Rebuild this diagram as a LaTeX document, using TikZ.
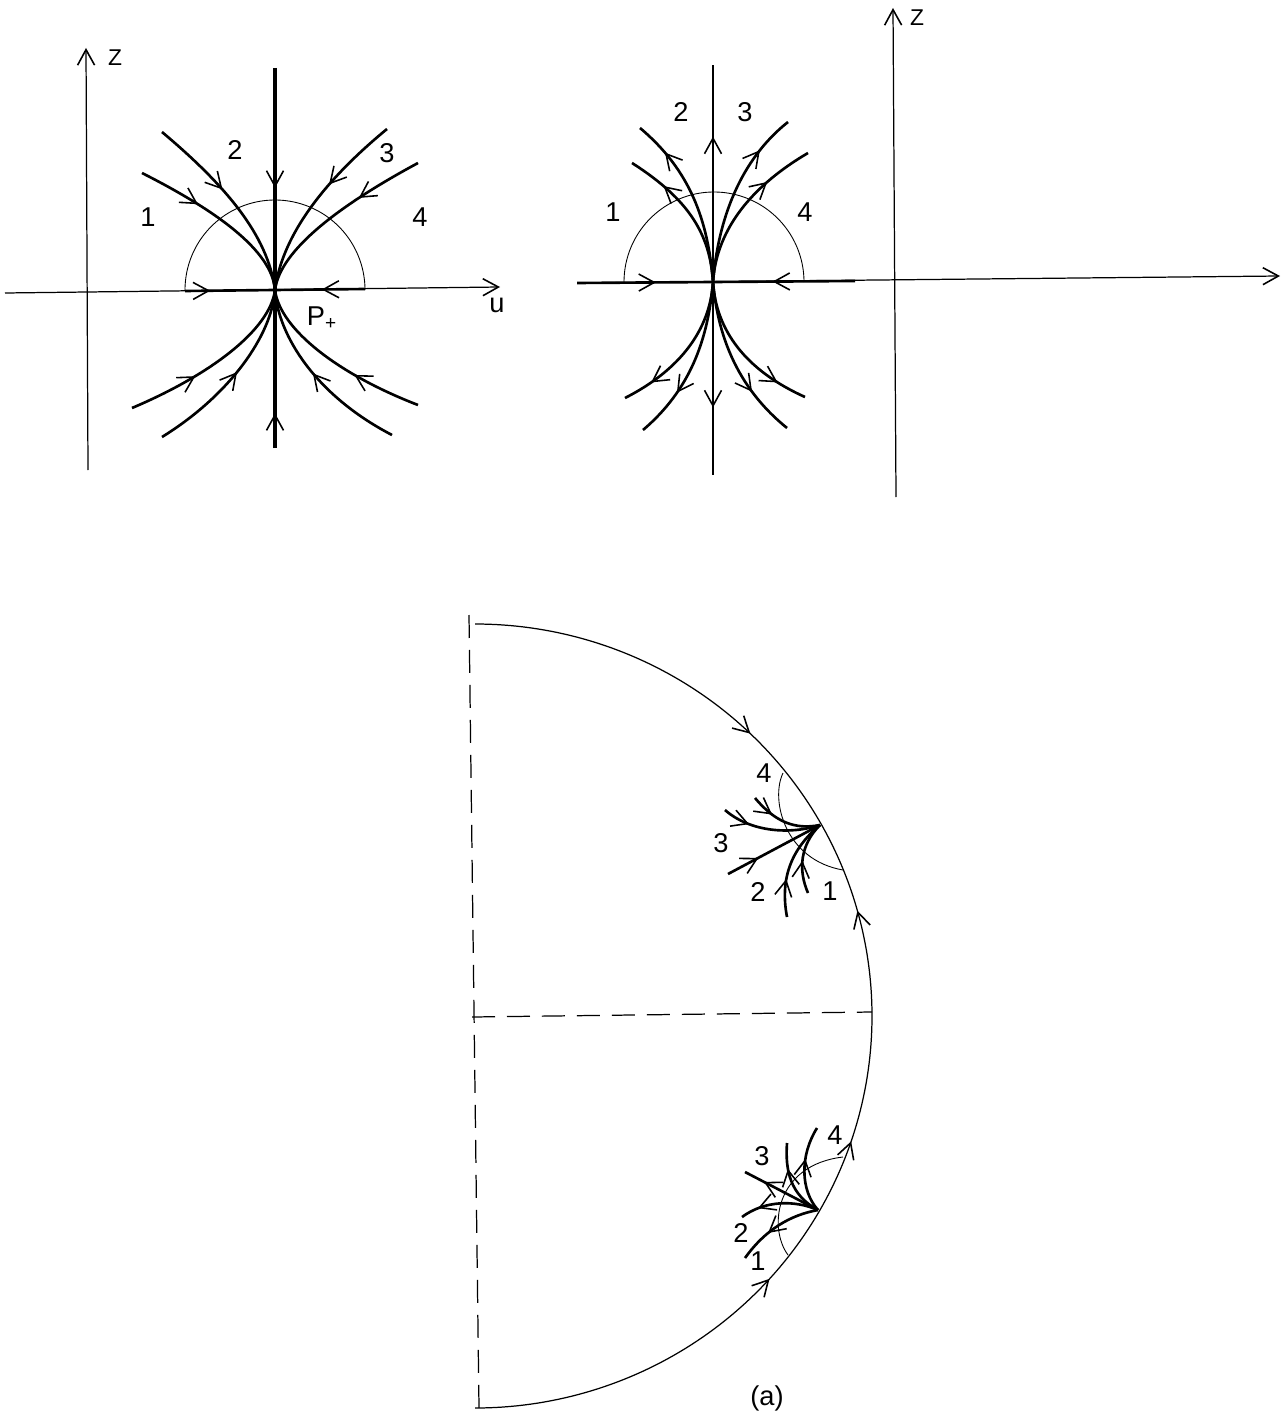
\documentclass[tikz,border=0pt]{standalone}
\usepackage{fontspec}
\setmainfont{Liberation Sans}
\usetikzlibrary{arrows.meta,decorations.markings}
\begin{document}
\begin{tikzpicture}[x=0.02cm,y=-0.02cm,
  >={Straight Barb[length=3.1mm,width=3.4mm,line width=0.9pt]},
  axis/.style={line width=0.7pt},
  flow/.style={line width=1.5pt},
  heavy/.style={line width=2pt},
  guide/.style={line width=0.5pt},
  dashline/.style={line width=0.7pt,dash pattern=on 0.46cm off 0.24cm},
  lbl/.style={font=\fontsize{15.5}{18}\selectfont, inner sep=0pt},
  axlbl/.style={font=\fontsize{13}{16}\selectfont, inner sep=0pt},
  midarrow/.style={postaction={decorate,decoration={markings,mark=at position #1 with {\arrow{>}}}}},
  midarrowrev/.style={postaction={decorate,decoration={markings,mark=at position #1 with {\arrowreversed{>}}}}}]
\useasboundingbox (0,0) rectangle (1286,1415);

% ================= Panel A =================
\coordinate (P) at (275,290);
\coordinate (zAb) at (88,470); \coordinate (zAt) at (86,48);
\coordinate (uAl) at (5,293); \coordinate (uAr) at (500,287);
\coordinate (hAl) at (185,291); \coordinate (hAr) at (365,289);
\coordinate (vAt) at (275,68); \coordinate (vAb) at (275,448);
\draw[axis,->] (zAb) -- (zAt);
\draw[axis,->] (uAl) -- (uAr);
\node[axlbl] (zA) at (115,58) {Z};
\node[lbl] (uA) at (497,305) {u};
\node[lbl] (pA) at (322,318) {P\textsubscript{+}};
\draw[guide] plot[domain=0:180,samples=90] ({275+90*cos(\x)},{290-90*sin(\x)});
\draw[flow,midarrow=0.28] (hAl) -- (P);
\draw[flow,midarrow=0.48] (hAr) -- (P);
\draw[heavy,midarrow=0.54] (vAt) -- (P);
\draw[heavy,midarrow=0.22] (vAb) -- (P);
\coordinate (a1) at (142,173); \coordinate (a2) at (162,132);
\coordinate (a3) at (387,129); \coordinate (a4) at (418,163);
\coordinate (a5) at (132,408); \coordinate (a6) at (162,437);
\coordinate (a7) at (418,405); \coordinate (a8) at (392,435);
\draw[flow,midarrow=0.35] (a1) .. controls (215,210) and (272,250) .. (P);
\draw[flow,midarrow=0.42] (a2) .. controls (225,185) and (268,235) .. (P);
\draw[flow,midarrow=0.4] (a3) .. controls (325,180) and (282,235) .. (P);
\draw[flow,midarrow=0.35] (a4) .. controls (340,205) and (280,250) .. (P);
\draw[flow,midarrow=0.37] (a5) .. controls (210,375) and (270,330) .. (P);
\draw[flow,midarrow=0.52] (a6) .. controls (230,395) and (272,335) .. (P);
\draw[flow,midarrow=0.37] (a7) .. controls (340,375) and (280,330) .. (P);
\draw[flow,midarrow=0.52] (a8) .. controls (315,395) and (278,335) .. (P);
\node[lbl] (A1) at (148,217) {1};
\node[lbl] (A2) at (235,150) {2};
\node[lbl] (A3) at (387,153) {3};
\node[lbl] (A4) at (420,217) {4};

% ================= Panel B =================
\coordinate (Q) at (713,282);
\coordinate (hBl) at (577,283); \coordinate (hBr) at (855,281);
\coordinate (uCr) at (1280,276);
\coordinate (vBt) at (713,65); \coordinate (vBb) at (713,475);
\draw[axis,->] (hBl) -- (uCr);
\draw[guide] plot[domain=0:180,samples=90] ({714+90*cos(\x)},{282-90*sin(\x)});
\draw[flow,midarrow=0.58] (hBl) -- (Q);
\draw[flow,midarrow=0.58] (hBr) -- (Q);
\draw[flow,midarrow=0.67] (Q) -- (vBt);
\draw[flow,midarrow=0.65] (Q) -- (vBb);
\coordinate (b1) at (632,163); \coordinate (b2) at (640,128);
\coordinate (b3) at (788,122); \coordinate (b4) at (808,153);
\coordinate (b5) at (625,398); \coordinate (b6) at (643,430);
\coordinate (b7) at (787,428); \coordinate (b8) at (805,397);
\draw[flow,midarrow=0.74] (Q) .. controls (710,235) and (690,200) .. (b1);
\draw[flow,midarrow=0.8] (Q) .. controls (708,220) and (690,170) .. (b2);
\draw[flow,midarrow=0.78] (Q) .. controls (718,220) and (740,160) .. (b3);
\draw[flow,midarrow=0.7] (Q) .. controls (716,235) and (745,190) .. (b4);
\draw[flow,midarrow=0.8] (Q) .. controls (710,330) and (680,370) .. (b5);
\draw[flow,midarrow=0.7] (Q) .. controls (708,340) and (690,390) .. (b6);
\draw[flow,midarrow=0.7] (Q) .. controls (718,340) and (740,390) .. (b7);
\draw[flow,midarrow=0.8] (Q) .. controls (716,330) and (745,370) .. (b8);
\node[lbl] (B1) at (613,212) {1};
\node[lbl] (B2) at (681,112) {2};
\node[lbl] (B3) at (745,112) {3};
\node[lbl] (B4) at (805,212) {4};

% ================= Panel C (axes) =================
\coordinate (zCb) at (896,497); \coordinate (zCt) at (893,8);
\draw[axis,->] (zCb) -- (zCt);
\node[axlbl] (zC) at (917,18) {Z};

% ================= Bottom diagram =================
\coordinate (dVt) at (469,615); \coordinate (dVb) at (479,1408);
\coordinate (dHl) at (472,1017); \coordinate (dHr) at (872,1012);
\draw[dashline] (dVt) -- (dVb);
\draw[dashline] (dHl) -- (dHr);
\draw[axis,
  postaction={decorate,decoration={markings,
    mark=at position 0.245 with {\arrow{>}},
    mark=at position 0.414 with {\arrowreversed{>}},
    mark=at position 0.603 with {\arrowreversed{>}},
    mark=at position 0.733 with {\arrowreversed{>}}}}]
  plot[domain=90:-90,samples=181] ({475+397*cos(\x)},{1016-392*sin(\x)});

% upper cluster
\coordinate (R1) at (820,825);
\draw[guide] (783,773) .. controls (770,800) and (785,860) .. (843,870);
\coordinate (e4) at (755,798); \coordinate (e3) at (725,810);
\coordinate (e3b) at (728,874); \coordinate (e2) at (787,917);
\coordinate (e1) at (808,893);
\draw[flow,midarrow=0.32] (e4) .. controls (775,822) and (795,830) .. (R1);
\draw[flow,midarrow=0.28] (e3) .. controls (750,832) and (790,835) .. (R1);
\draw[flow,midarrow=0.33] (e3b) -- (R1);
\draw[flow,midarrow=0.37] (e2) .. controls (780,880) and (790,850) .. (R1);
\draw[flow,midarrow=0.45] (e1) .. controls (798,870) and (800,845) .. (R1);
\node[lbl] (E4) at (764,773) {4};
\node[lbl] (E3) at (721,843) {3};
\node[lbl] (E2) at (758,892) {2};
\node[lbl] (E1) at (830,891) {1};

% lower cluster
\coordinate (R2) at (818,1210);
\draw[guide] (788,1255) .. controls (768,1228) and (775,1165) .. (843,1157);
\coordinate (f1) at (745,1172); \coordinate (f2) at (742,1217);
\coordinate (f3) at (745,1258); \coordinate (f4) at (787,1143);
\coordinate (f5) at (817,1128);
\draw[flow,midarrow=0.74] (R2) -- (f1);
\draw[flow,midarrow=0.77] (R2) .. controls (795,1200) and (765,1200) .. (f2);
\draw[flow,midarrow=0.62] (R2) .. controls (790,1215) and (765,1230) .. (f3);
\draw[flow,midarrow=0.67] (R2) .. controls (790,1195) and (785,1170) .. (f4);
\draw[flow,midarrow=0.62] (R2) .. controls (800,1190) and (800,1155) .. (f5);
\node[lbl] (F3) at (762,1156) {3};
\node[lbl] (F4) at (835,1135) {4};
\node[lbl] (F2) at (741,1233) {2};
\node[lbl] (F1) at (758,1261) {1};

\node[lbl] (cap) at (767,1398) {(a)};
\end{tikzpicture}
\end{document}
